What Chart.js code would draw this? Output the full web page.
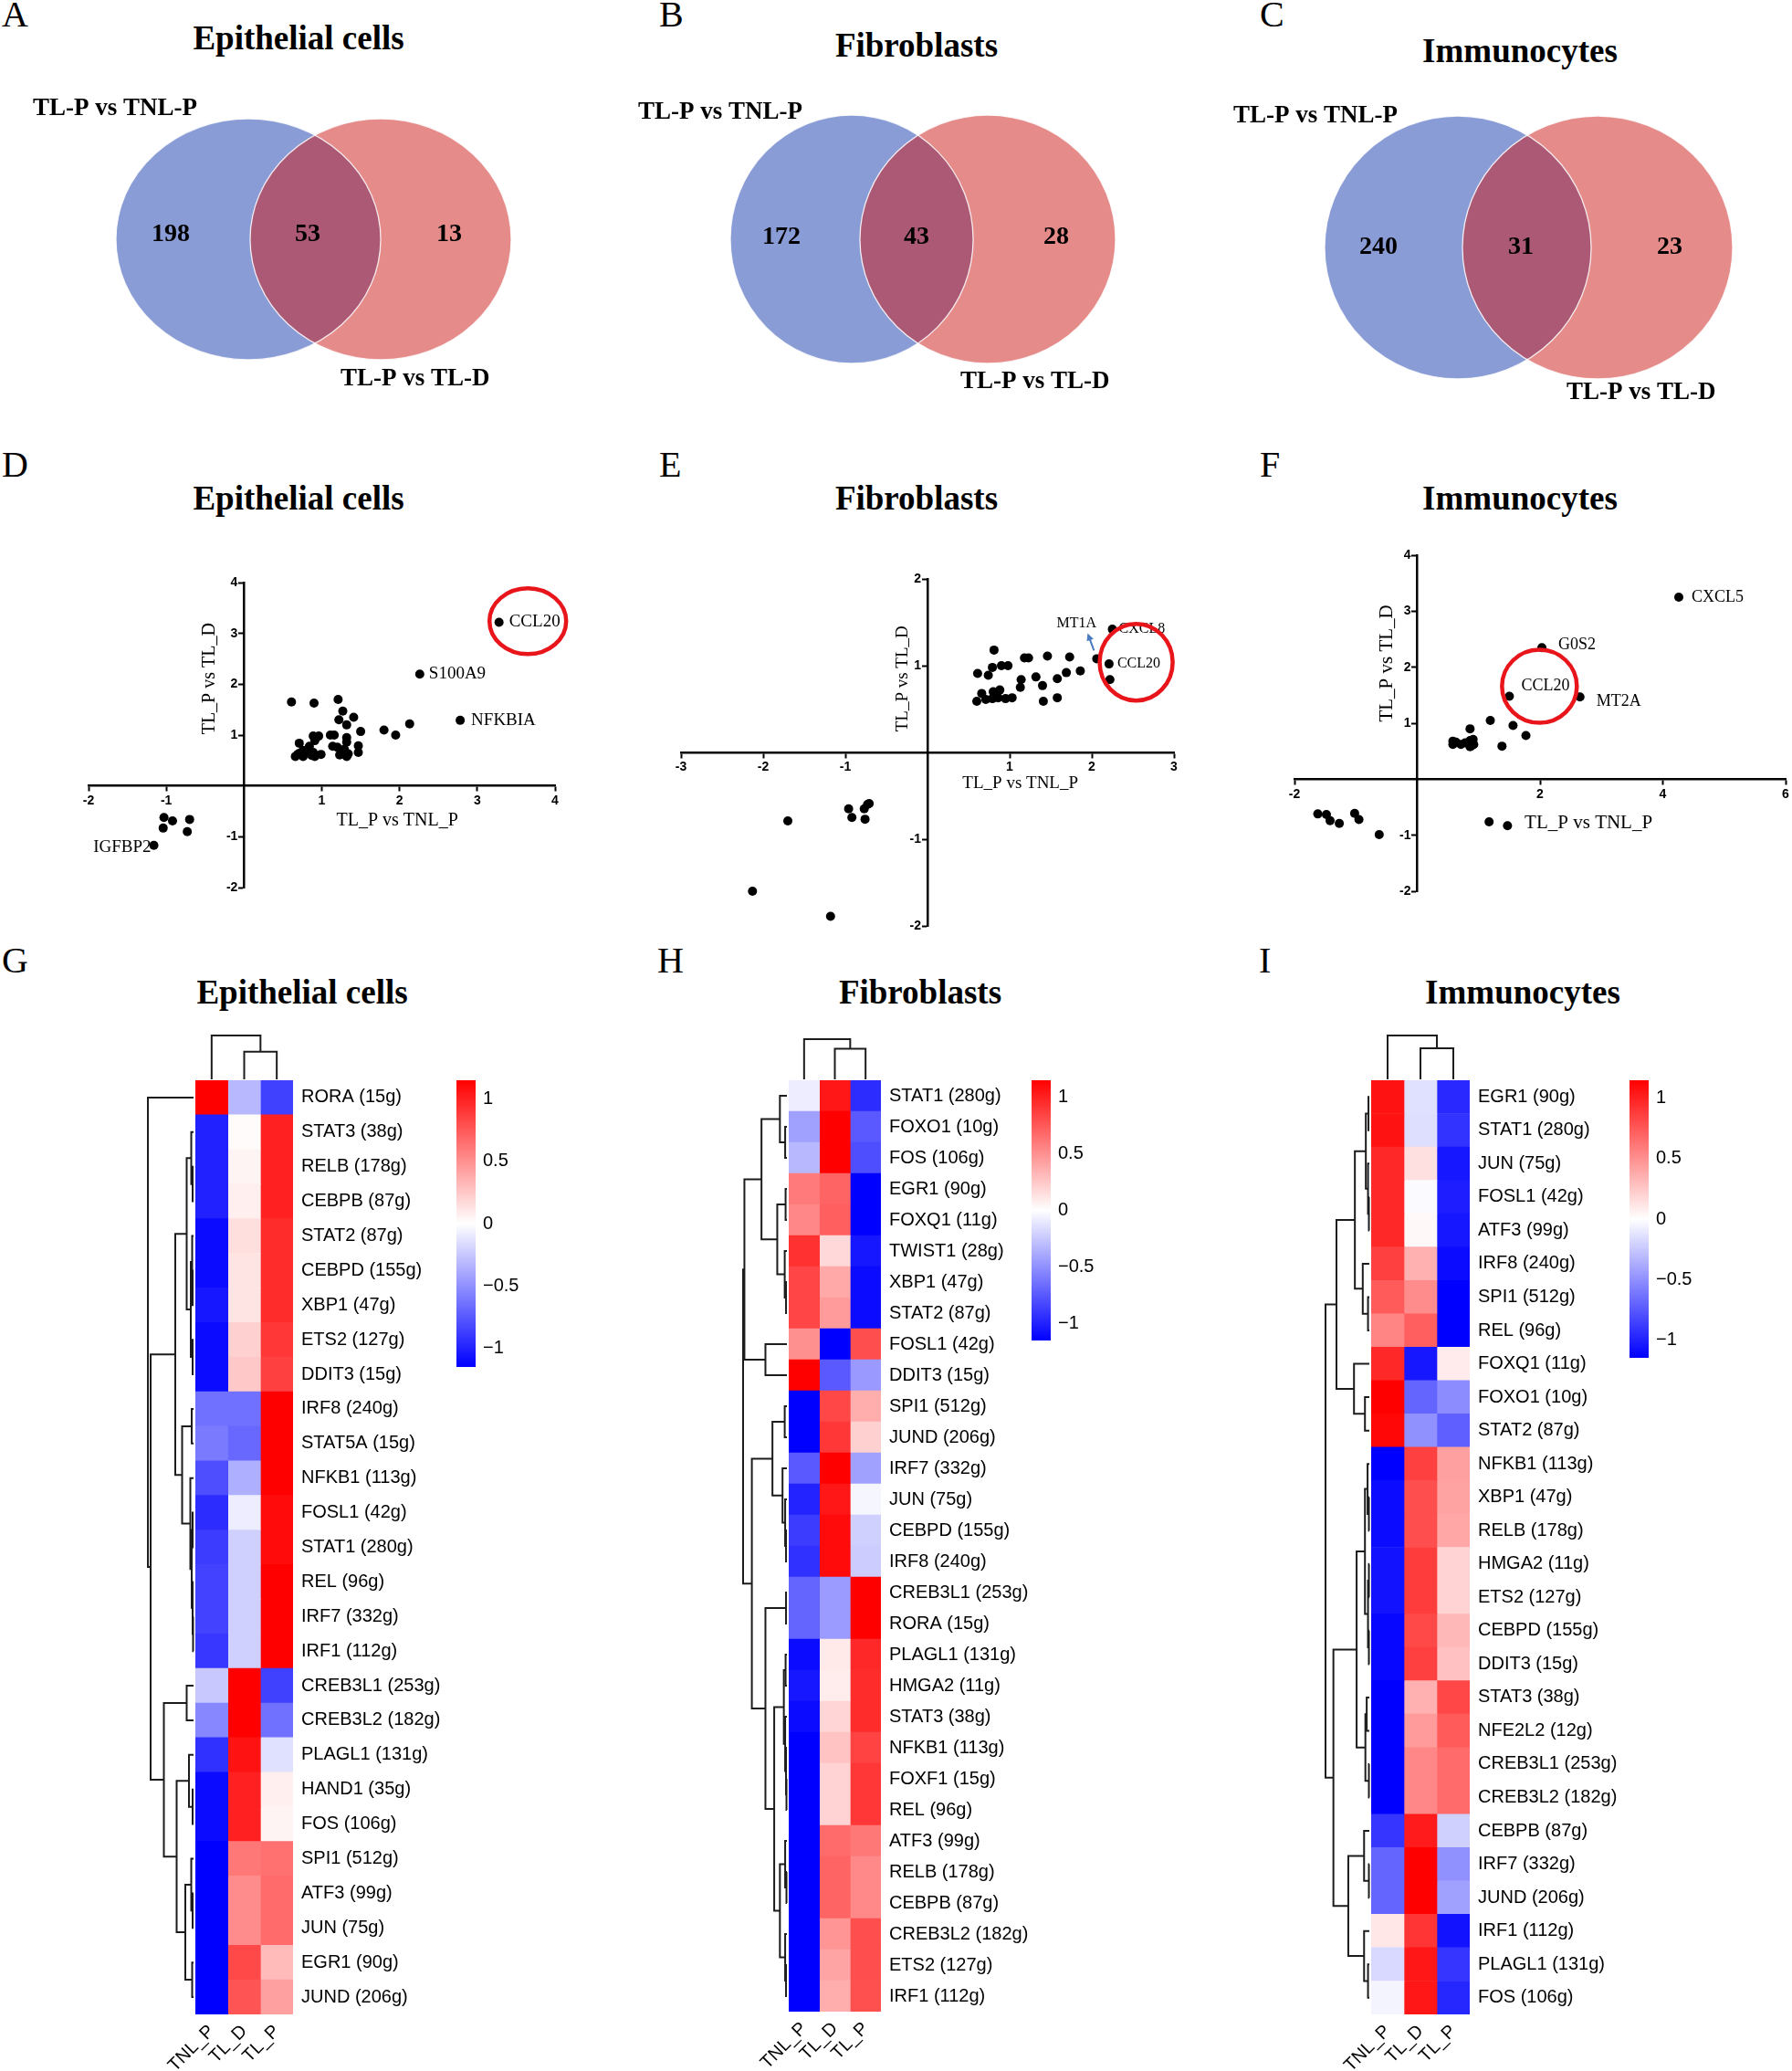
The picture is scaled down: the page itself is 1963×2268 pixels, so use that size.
<!DOCTYPE html>
<html>
<head>
<meta charset="utf-8">
<title>Figure</title>
<script src="https://cdn.jsdelivr.net/npm/chart.js@4.4.1/dist/chart.umd.min.js"></script>
<style>
  html, body { margin:0; padding:0; background:#ffffff; }
  #page { position:relative; width:1963px; height:2268px; overflow:hidden; background:#ffffff; }
  #page canvas { position:absolute; display:block; }
  .txt { position:absolute; font-family:"Liberation Serif","Times New Roman",serif; color:#000; white-space:nowrap; line-height:1; }
  .letter { font-size:40px; }
  .title { font-size:37px; font-weight:bold; transform:translate(-50%,-50%); }
</style>
</head>
<body>
<div id="page"></div>
<script>
// ======================= DATA =======================
const panelLetters = ['A','B','C','D','E','F','G','H','I'];
const cellTypes = ['Epithelial cells','Fibroblasts','Immunocytes'];

// Venn counts: [only TL-P vs TNL-P, shared, only TL-P vs TL-D]
const vennSetNames = ['TL-P vs TNL-P', 'TL-P vs TL-D'];
const vennEpithelial = [198, 53, 13];
const vennFibroblasts = [172, 43, 28];
const vennImmunocytes = [240, 31, 23];

// Scatter axis titles
const scatterXTitle = 'TL_P vs TNL_P';
const scatterYTitle = 'TL_P vs TL_D';

// D: Epithelial cells scatter
const epiX = [0.61,0.90,1.21,1.27,1.41,1.22,1.32,1.50,1.11,1.16,1.32,1.32,1.14,1.20,1.47,1.47,1.29,1.34,1.32,1.23,0.89,0.93,0.96,0.91,0.71,0.84,0.76,0.80,0.89,0.69,0.66,0.76,0.87,0.91,0.99,0.71,2.13,1.95,1.80,-1.03,-1.04,-0.92,-0.70,-0.73];
const epiY = [1.65,1.63,1.70,1.47,1.35,1.30,1.20,1.07,1.00,1.00,0.95,0.86,0.78,0.76,0.79,0.66,0.72,0.63,0.58,0.61,0.98,0.95,0.98,0.89,0.84,0.78,0.70,0.68,0.66,0.62,0.58,0.58,0.60,0.58,0.62,0.64,1.22,1.00,1.10,-0.62,-0.83,-0.69,-0.66,-0.90];
const epiGenes = ['CCL20','S100A9','NFKBIA','IGFBP2'];
const epiGeneX = [3.28, 2.26, 2.78, -1.16];
const epiGeneY = [3.22, 2.20, 1.29, -1.17];
const epiXTicks = [-2,-1,1,2,3,4];
const epiYTicks = [-2,-1,1,2,3,4];

// E: Fibroblasts scatter
const fibX = [2.22,1.86,1.73,1.69,1.58,1.58,1.46,1.40,1.41,1.32,1.18,1.23,1.14,1.13,1.03,0.98,0.90,0.81,0.79,0.61,0.74,0.66,0.60,0.71,0.79,0.80,0.88,0.86,0.95,-1.70,-2.13,-1.18,-0.96,-0.92,-0.77,-0.76,-0.73,-0.71];
const fibY = [0.84,0.94,1.10,0.92,0.85,0.63,1.11,0.77,0.59,0.87,1.09,1.09,0.84,0.75,0.63,1.00,1.00,1.18,0.98,0.91,0.89,0.68,0.59,0.61,0.62,0.70,0.72,0.63,0.62,-0.79,-1.60,-1.89,-0.65,-0.75,-0.65,-0.77,-0.60,-0.59];
const fibGenes = ['CXCL8','CCL20','MT1A'];
const fibGeneX = [2.25, 2.21, 2.06];
const fibGeneY = [1.42, 1.02, 1.08];
const fibXTicks = [-3,-2,-1,1,2,3];
const fibYTicks = [-2,-1,1,2];

// F: Immunocytes scatter
const immX = [1.19,1.56,1.77,1.38,0.86,0.58,0.58,0.63,0.71,0.78,0.86,0.91,0.92,0.86,0.89,-1.62,-1.48,-1.42,-1.27,-1.02,-0.95,-0.62,1.17,1.47];
const immY = [1.05,0.96,0.78,0.59,0.90,0.68,0.62,0.66,0.62,0.65,0.69,0.71,0.62,0.58,0.60,-0.62,-0.63,-0.74,-0.79,-0.61,-0.72,-0.99,-0.76,-0.83];
const immGenes = ['CXCL5','G0S2','CCL20','MT2A'];
const immGeneX = [4.26, 2.03, 1.50, 2.65];
const immGeneY = [3.25, 2.35, 1.48, 1.47];
const immXTicks = [-2,2,4,6];
const immYTicks = [-2,-1,1,2,3,4];

// Heatmaps (row z-scores), columns
const heatColumns = ['TNL_P','TL_D','TL_P'];
const colorbarTicks = [1, 0.5, 0, -0.5, -1];
const colorbarTickLabels = ['1','0.5','0','\u22120.5','\u22121'];
const colorLimit = 1.15;

// G: Epithelial cells
const epiTFs = ['RORA (15g)','STAT3 (38g)','RELB (178g)','CEBPB (87g)','STAT2 (87g)','CEBPD (155g)','XBP1 (47g)','ETS2 (127g)','DDIT3 (15g)','IRF8 (240g)','STAT5A (15g)','NFKB1 (113g)','FOSL1 (42g)','STAT1 (280g)','REL (96g)','IRF7 (332g)','IRF1 (112g)','CREB3L1 (253g)','CREB3L2 (182g)','PLAGL1 (131g)','HAND1 (35g)','FOS (106g)','SPI1 (512g)','ATF3 (99g)','JUN (75g)','EGR1 (90g)','JUND (206g)'];
const epiTNLP = [1.15,-1.0,-1.0,-1.0,-1.1,-1.1,-1.05,-1.1,-1.1,-0.64,-0.6,-0.8,-0.95,-0.88,-0.85,-0.85,-0.9,-0.25,-0.54,-0.93,-1.1,-1.1,-1.15,-1.15,-1.15,-1.15,-1.15];
const epiTLD  = [-0.32,0.02,0.05,0.07,0.15,0.12,0.12,0.21,0.25,-0.64,-0.68,-0.36,-0.08,-0.21,-0.21,-0.21,-0.21,1.15,1.15,1.07,1.0,1.0,0.61,0.52,0.52,0.82,0.77];
const epiTLP  = [-0.86,1.0,1.0,1.0,0.95,0.95,0.95,0.9,0.86,1.15,1.15,1.15,1.1,1.1,1.15,1.15,1.15,-0.86,-0.64,-0.14,0.07,0.05,0.64,0.67,0.67,0.31,0.43];
const epiRowTree = [0, [
  [[[1,[2,3,0.02],0.05],[[4,[5,6,0.02],0.03],[7,8,0.02],0.06],0.15],
   [[9,10,0.04],[11,[[12,13,0.02],[14,[15,16,0.01],0.02],0.04],0.07],0.25], 0.40],
  [[17,18,0.15],[[19,[20,21,0.02],0.10],[[22,[23,24,0.02],0.05],[25,26,0.03],0.18],0.37],0.65],
  0.94], 1.0];
const epiColTree = [0,[1,2,0.63],1.0];

// H: Fibroblasts
const fibTFs = ['STAT1 (280g)','FOXO1 (10g)','FOS (106g)','EGR1 (90g)','FOXQ1 (11g)','TWIST1 (28g)','XBP1 (47g)','STAT2 (87g)','FOSL1 (42g)','DDIT3 (15g)','SPI1 (512g)','JUND (206g)','IRF7 (332g)','JUN (75g)','CEBPD (155g)','IRF8 (240g)','CREB3L1 (253g)','RORA (15g)','PLAGL1 (131g)','HMGA2 (11g)','STAT3 (38g)','NFKB1 (113g)','FOXF1 (15g)','REL (96g)','ATF3 (99g)','RELB (178g)','CEBPB (87g)','CREB3L2 (182g)','ETS2 (127g)','IRF1 (112g)'];
const fibTNLP = [-0.08,-0.43,-0.32,0.6,0.54,0.93,0.84,0.84,0.5,1.15,-1.15,-1.15,-0.75,-0.99,-0.88,-0.93,-0.7,-0.7,-1.1,-1.05,-1.1,-1.15,-1.15,-1.15,-1.15,-1.15,-1.15,-1.15,-1.15,-1.15];
const fibTLD  = [1.05,1.15,1.15,0.7,0.72,0.17,0.39,0.45,-1.15,-0.75,0.83,0.9,1.15,1.05,1.1,1.1,-0.45,-0.45,0.1,0.08,0.19,0.27,0.2,0.2,0.67,0.7,0.7,0.48,0.41,0.37];
const fibTLP  = [-0.95,-0.75,-0.8,-1.15,-1.15,-1.05,-1.1,-1.1,0.8,-0.46,0.37,0.21,-0.43,-0.04,-0.21,-0.23,1.15,1.15,0.97,0.95,0.95,0.85,0.9,0.9,0.61,0.53,0.53,0.8,0.8,0.79];
const fibRowTree = [
  [[[0,[1,2,0.04],0.16],[[3,4,0.03],[5,[6,7,0.02],0.05],0.22],0.58],[8,9,0.49],0.97],
  [[[10,11,0.05],[12,[13,[14,15,0.02],0.04],0.10],0.33],
   [[16,17,0.02],[[[18,19,0.03],[20,[21,[22,23,0.01],0.02],0.04],0.07],[[24,[25,26,0.01],0.04],[27,[28,29,0.02],0.04],0.16],0.29],0.49],
   0.80], 1.0];
const fibColTree = [0,[1,2,0.76],1.0];

// I: Immunocytes
const immTFs = ['EGR1 (90g)','STAT1 (280g)','JUN (75g)','FOSL1 (42g)','ATF3 (99g)','IRF8 (240g)','SPI1 (512g)','REL (96g)','FOXQ1 (11g)','FOXO1 (10g)','STAT2 (87g)','NFKB1 (113g)','XBP1 (47g)','RELB (178g)','HMGA2 (11g)','ETS2 (127g)','CEBPD (155g)','DDIT3 (15g)','STAT3 (38g)','NFE2L2 (12g)','CREB3L1 (253g)','CREB3L2 (182g)','CEBPB (87g)','IRF7 (332g)','JUND (206g)','IRF1 (112g)','PLAGL1 (131g)','FOS (106g)'];
const immTNLP = [1.07,1.07,0.97,0.97,0.97,0.86,0.74,0.55,0.97,1.15,1.12,-1.15,-1.1,-1.1,-1.07,-1.07,-1.12,-1.12,-1.15,-1.15,-1.15,-1.15,-0.91,-0.7,-0.7,0.11,-0.17,-0.05];
const immTLD  = [-0.14,-0.15,0.14,-0.02,0.03,0.35,0.52,0.72,-1.05,-0.7,-0.5,0.86,0.8,0.8,0.88,0.88,0.82,0.86,0.35,0.45,0.54,0.54,1.03,1.15,1.15,0.91,1.05,1.05];
const immTLP  = [-0.97,-0.92,-1.05,-1.02,-1.05,-1.1,-1.15,-1.15,0.09,-0.52,-0.72,0.43,0.42,0.4,0.2,0.2,0.32,0.28,0.83,0.74,0.67,0.67,-0.21,-0.5,-0.43,-1.07,-0.91,-0.98];
const immRowTree = [
  [[[[0,1,0.02],[2,[3,4,0.01],0.03],0.08],[5,[6,7,0.03],0.15],0.33],[8,[9,10,0.10],0.35],0.75],
  [[[[11,[12,13,0.01],0.04],[[14,15,0.01],[16,17,0.01],0.03],0.10],[[18,19,0.06],[20,21,0.01],0.09],0.29],
   [[22,[23,24,0.01],0.12],[25,[26,27,0.03],0.12],0.48],0.82], 1.0];
const immColTree = [0,[1,2,0.71],1.0];

// ======================= RENDERING =======================
const SERIF = '"Liberation Serif", "Times New Roman", serif';
const SANS = '"Liberation Sans", Arial, Helvetica, sans-serif';
Chart.defaults.font.family = SANS;
Chart.defaults.color = '#000';

const page = document.getElementById('page');
function makeCanvas(left, top, w, h) {
  const c = document.createElement('canvas');
  c.width = w; c.height = h;
  c.style.left = left + 'px'; c.style.top = top + 'px';
  c.style.width = w + 'px'; c.style.height = h + 'px';
  page.appendChild(c);
  return c;
}
function makeText(text, cls, x, y) {
  const d = document.createElement('div');
  d.className = 'txt ' + cls;
  d.textContent = text;
  d.style.left = x + 'px'; d.style.top = y + 'px';
  page.appendChild(d);
}

// ---------- Panel letters and titles ----------
const letterPos = [[2,-4],[722,-4],[1380,-4],[2,489],[722,489],[1380,489],[2,1032],[720,1032],[1379,1032]];
panelLetters.forEach((L, i) => makeText(L, 'letter', letterPos[i][0], letterPos[i][1]));
const titlePos = [[[327,41],[1004,49],[1665,55]],[[327,545],[1004,545],[1665,545]],[[331,1086],[1008,1086],[1668,1086]]];
titlePos.forEach(row => row.forEach((p, j) => makeText(cellTypes[j], 'title', p[0], p[1])));

// ---------- Venn ----------
function vennChart(rect, counts, L) {
  const [cl, ct, cw, ch] = rect;
  const plugin = {
    id: 'venn',
    afterDatasetsDraw(chart) {
      const ctx = chart.ctx, sx = chart.scales.x, sy = chart.scales.y;
      const X = v => sx.getPixelForValue(v - cl), Y = v => sy.getPixelForValue(v - ct);
      const path = e => {
        ctx.beginPath();
        ctx.ellipse(X(e.cx), Y(e.cy), Math.abs(X(e.cx + e.rx) - X(e.cx)), Math.abs(Y(e.cy + e.ry) - Y(e.cy)), 0, 0, Math.PI * 2);
      };
      ctx.save();
      path(L.a); ctx.fillStyle = '#8A9CD5'; ctx.fill();
      path(L.b); ctx.fillStyle = '#E58B8A'; ctx.fill();
      ctx.save(); path(L.a); ctx.clip(); path(L.b); ctx.fillStyle = '#AB5975'; ctx.fill(); ctx.restore();
      ctx.strokeStyle = 'rgba(255,255,255,0.85)'; ctx.lineWidth = 1.3;
      path(L.a); ctx.stroke(); path(L.b); ctx.stroke();
      const meta = chart.getDatasetMeta(0);
      ctx.fillStyle = '#000'; ctx.textAlign = 'center'; ctx.textBaseline = 'middle';
      ctx.font = 'bold 28px ' + SERIF;
      meta.data.forEach((pt, i) => ctx.fillText(String(counts[i]), pt.x, pt.y));
      ctx.font = 'bold 27px ' + SERIF; ctx.textAlign = 'left';
      ctx.fillText(vennSetNames[0], X(L.l1[0]), Y(L.l1[1]));
      ctx.fillText(vennSetNames[1], X(L.l2[0]), Y(L.l2[1]));
      ctx.restore();
    }
  };
  new Chart(makeCanvas(cl, ct, cw, ch), {
    type: 'scatter',
    data: { datasets: [{ data: L.nums.map(p => ({ x: p[0] - cl, y: p[1] - ct })), pointRadius: 0 }] },
    options: {
      responsive: false, animation: false, layout: { padding: 0 },
      scales: { x: { type: 'linear', min: 0, max: cw, display: false }, y: { type: 'linear', min: 0, max: ch, reverse: true, display: false } },
      plugins: { legend: { display: false }, tooltip: { enabled: false } }
    },
    plugins: [plugin]
  });
}
vennChart([0, 60, 680, 420], vennEpithelial, {
  a: { cx: 272, cy: 262, rx: 145, ry: 132 }, b: { cx: 417, cy: 262, rx: 143, ry: 132 },
  nums: [[187, 257], [337, 257], [492, 257]], l1: [36, 119], l2: [373, 415] });
vennChart([680, 60, 680, 420], vennFibroblasts, {
  a: { cx: 933, cy: 262, rx: 133, ry: 136 }, b: { cx: 1082, cy: 262, rx: 140, ry: 136 },
  nums: [[856, 260], [1004, 260], [1157, 260]], l1: [699, 123], l2: [1052, 418] });
vennChart([1340, 60, 623, 420], vennImmunocytes, {
  a: { cx: 1597, cy: 271, rx: 146, ry: 144 }, b: { cx: 1750, cy: 271, rx: 148, ry: 144 },
  nums: [[1510, 271], [1666, 271], [1829, 271]], l1: [1351, 127], l2: [1716, 430] });

// ---------- Scatter ----------
function scatterChart(rect, pad, xs, ys, genes, gx, gy, cfg) {
  const [cl, ct, cw, ch] = rect;
  const plugin = {
    id: 'scatterDecor',
    afterDatasetsDraw(chart) {
      const ctx = chart.ctx, sx = chart.scales.x, sy = chart.scales.y;
      ctx.save();
      const meta = chart.getDatasetMeta(1);
      ctx.fillStyle = '#000'; ctx.textBaseline = 'middle';
      ctx.font = cfg.labelSize + 'px ' + SERIF;
      genes.forEach((g, i) => {
        const el = meta.data[i], off = cfg.offsets[i];
        ctx.textAlign = off[2] || 'left';
        ctx.fillText(g, el.x + off[0], el.y + off[1]);
      });
      if (cfg.arrow) {
        const el = meta.data[cfg.arrow.gene];
        const x1 = el.x + cfg.arrow.from[0], y1 = el.y + cfg.arrow.from[1];
        const x2 = el.x + cfg.arrow.to[0], y2 = el.y + cfg.arrow.to[1];
        const ang = Math.atan2(y2 - y1, x2 - x1);
        ctx.strokeStyle = '#4A7CC0'; ctx.fillStyle = '#4A7CC0'; ctx.lineWidth = 2;
        ctx.beginPath(); ctx.moveTo(x1, y1); ctx.lineTo(x2 - 6 * Math.cos(ang), y2 - 6 * Math.sin(ang)); ctx.stroke();
        ctx.beginPath(); ctx.moveTo(x2, y2);
        ctx.lineTo(x2 - 9 * Math.cos(ang - 0.45), y2 - 9 * Math.sin(ang - 0.45));
        ctx.lineTo(x2 - 9 * Math.cos(ang + 0.45), y2 - 9 * Math.sin(ang + 0.45));
        ctx.closePath(); ctx.fill();
        ctx.fillStyle = '#000';
      }
      ctx.font = cfg.titleSize + 'px ' + SERIF; ctx.textAlign = 'center';
      ctx.fillText(scatterXTitle, sx.getPixelForValue(cfg.xTitle[0]), sy.getPixelForValue(cfg.xTitle[1]));
      ctx.save();
      ctx.translate(sx.getPixelForValue(cfg.yTitle[0]), sy.getPixelForValue(cfg.yTitle[1]));
      ctx.rotate(-Math.PI / 2);
      ctx.fillText(scatterYTitle, 0, 0);
      ctx.restore();
      ctx.strokeStyle = '#E8151B'; ctx.lineWidth = 4.5;
      cfg.rings.forEach(r => {
        ctx.beginPath();
        ctx.ellipse(sx.getPixelForValue(r.x), sy.getPixelForValue(r.y), r.rx, r.ry, 0, 0, Math.PI * 2);
        ctx.stroke();
      });
      ctx.restore();
    }
  };
  const axis = (min, max, ticks, pos, suffix) => ({
    type: 'linear', min, max, position: pos,
    afterBuildTicks: s => { s.ticks = ticks.map(v => ({ value: v })); },
    grid: { drawOnChartArea: false, drawTicks: true, tickLength: 5, tickWidth: 2, tickColor: '#000' },
    border: { display: true, color: '#000', width: 2.5 },
    ticks: { autoSkip: false, maxRotation: 0, padding: 3, color: '#000', font: { size: 14, weight: 'bold', family: SANS }, callback: v => String(v) + suffix }
  });
  new Chart(makeCanvas(cl, ct, cw, ch), {
    type: 'scatter',
    data: { datasets: [
      { data: xs.map((x, i) => ({ x, y: ys[i] })), pointRadius: 5, pointBackgroundColor: '#000', pointBorderWidth: 0, clip: false },
      { data: gx.map((x, i) => ({ x, y: gy[i] })), pointRadius: 5, pointBackgroundColor: '#000', pointBorderWidth: 0, clip: false }
    ] },
    options: {
      responsive: false, animation: false,
      layout: { padding: pad },
      plugins: { legend: { display: false }, tooltip: { enabled: false } },
      scales: { x: axis(cfg.xr[0], cfg.xr[1], cfg.xt, { y: 0 }, ''), y: axis(cfg.yr[0], cfg.yr[1], cfg.yt, { x: 0 }, '\u2002') }
    },
    plugins: [plugin]
  });
}
scatterChart([30, 590, 650, 420], { left: 67, right: 72, top: 48, bottom: 38 }, epiX, epiY, epiGenes, epiGeneX, epiGeneY, {
  xr: [-2, 4], yr: [-2, 4], xt: epiXTicks, yt: epiYTicks, labelSize: 19, titleSize: 20,
  offsets: [[11, 0], [10, 0], [12, 0], [-3, 2, 'right']],
  xTitle: [1.97, -0.69], yTitle: [-0.44, 2.11],
  rings: [{ x: 3.65, y: 3.24, rx: 42, ry: 36 }] });
scatterChart([690, 590, 660, 440], { left: 56, right: 64, top: 44, bottom: 16 }, fibX, fibY, fibGenes, fibGeneX, fibGeneY, {
  xr: [-3, 3], yr: [-2, 2], xt: fibXTicks, yt: fibYTicks, labelSize: 16, titleSize: 19,
  offsets: [[7, 0], [9, 0], [-22, -39, 'center']],
  arrow: { gene: 2, from: [-3, -9], to: [-10, -28] },
  xTitle: [1.13, -0.36], yTitle: [-0.30, 0.85],
  rings: [{ x: 2.54, y: 1.04, rx: 40, ry: 42 }] });
scatterChart([1365, 570, 598, 430], { left: 53, right: 7, top: 38, bottom: 24 }, immX, immY, immGenes, immGeneX, immGeneY, {
  xr: [-2, 6], yr: [-2, 4], xt: immXTicks, yt: immYTicks, labelSize: 18, titleSize: 21,
  offsets: [[14, 0], [18, -3], [13, -11], [18, 5]],
  xTitle: [2.79, -0.79], yTitle: [-0.49, 2.07],
  rings: [{ x: 1.99, y: 1.66, rx: 41, ry: 40 }] });

// ---------- Heatmaps ----------
function heatColor(v) {
  const t = Math.min(1, Math.abs(v) / colorLimit);
  const c = Math.round(255 * (1 - t));
  return v >= 0 ? `rgb(255,${c},${c})` : `rgb(${c},${c},255)`;
}
function drawTree(ctx, node, posOf, levelOf, isRow) {
  if (typeof node === 'number') return { p: posOf(node), c: levelOf(0) };
  const a = drawTree(ctx, node[0], posOf, levelOf, isRow);
  const b = drawTree(ctx, node[1], posOf, levelOf, isRow);
  const c = levelOf(node[2]);
  ctx.beginPath();
  if (isRow) { ctx.moveTo(a.c, a.p); ctx.lineTo(c, a.p); ctx.lineTo(c, b.p); ctx.lineTo(b.c, b.p); }
  else { ctx.moveTo(a.p, a.c); ctx.lineTo(a.p, c); ctx.lineTo(b.p, c); ctx.lineTo(b.p, b.c); }
  ctx.stroke();
  return { p: (a.p + b.p) / 2, c };
}
function heatChart(rect, lay, genes, values, rowTree, colTree, cb) {
  const [cl, ct, cw, ch] = rect;
  const plugin = {
    id: 'heatDecor',
    afterDraw(chart) {
      const ctx = chart.ctx, ca = chart.chartArea, sx = chart.scales.x, sy = chart.scales.y;
      ctx.save();
      ctx.strokeStyle = '#1c1c1c'; ctx.lineWidth = 2;
      drawTree(ctx, rowTree, i => sy.getPixelForValue(i), h => ca.left - 2 - h * lay.rowW, true);
      drawTree(ctx, colTree, j => sx.getPixelForValue(j + 0.5), h => ca.top - 1 - h * lay.colH, false);
      const bx = ca.right + cb.dx, by = ca.top, bw = 21, bh = cb.h;
      const g = ctx.createLinearGradient(0, by, 0, by + bh);
      g.addColorStop(0, 'rgb(255,0,0)'); g.addColorStop(0.5, 'rgb(255,255,255)'); g.addColorStop(1, 'rgb(0,0,255)');
      ctx.fillStyle = g; ctx.fillRect(bx, by, bw, bh);
      ctx.fillStyle = '#000'; ctx.font = '20px ' + SANS; ctx.textAlign = 'left'; ctx.textBaseline = 'middle';
      colorbarTicks.forEach((v, k) => {
        const yy = by + (colorLimit - v) / (2 * colorLimit) * bh;
        ctx.fillText(colorbarTickLabels[k], bx + bw + 8, yy);
      });
      ctx.restore();
    }
  };
  new Chart(makeCanvas(cl, ct, cw, ch), {
    type: 'bar',
    data: {
      labels: genes,
      datasets: heatColumns.map((c, j) => ({
        label: c, data: genes.map(() => 1), backgroundColor: values[j].map(heatColor),
        borderWidth: 0, barPercentage: 1, categoryPercentage: 1
      }))
    },
    options: {
      indexAxis: 'y', responsive: false, animation: false,
      layout: { padding: { left: lay.left, top: lay.top, right: 0, bottom: 0 } },
      plugins: { legend: { display: false }, tooltip: { enabled: false } },
      scales: {
        x: {
          type: 'linear', stacked: true, min: 0, max: heatColumns.length, position: 'bottom',
          grid: { display: false, drawTicks: false }, border: { display: false },
          afterBuildTicks: s => { s.ticks = heatColumns.map((c, j) => ({ value: j + 0.5 })); },
          afterFit: s => { s.height = lay.xh; },
          ticks: { autoSkip: false, minRotation: 45, maxRotation: 45, padding: 7, color: '#000', font: { size: 20, family: SANS }, callback: (v, i) => heatColumns[i] }
        },
        y: {
          stacked: true, position: 'right',
          grid: { display: false, drawTicks: false }, border: { display: false },
          afterFit: s => { s.width = lay.yw; },
          ticks: { autoSkip: false, padding: 9, color: '#000', font: { size: 20, family: SANS } }
        }
      }
    },
    plugins: [plugin]
  });
}
heatChart([150, 1120, 500, 1148], { left: 64, top: 63, xh: 62, yw: 329, rowW: 50, colH: 48 },
  epiTFs, [epiTNLP, epiTLD, epiTLP], epiRowTree, epiColTree, { dx: 179, h: 314 });
heatChart([800, 1120, 520, 1148], { left: 64, top: 63, xh: 65, yw: 355, rowW: 48, colH: 44 },
  fibTFs, [fibTNLP, fibTLD, fibTLP], fibRowTree, fibColTree, { dx: 165, h: 285 });
heatChart([1440, 1120, 523, 1148], { left: 62, top: 63, xh: 62, yw: 353, rowW: 48, colH: 48 },
  immTFs, [immTNLP, immTLD, immTLP], immRowTree, immColTree, { dx: 175, h: 304 });
</script>
</body>
</html>
